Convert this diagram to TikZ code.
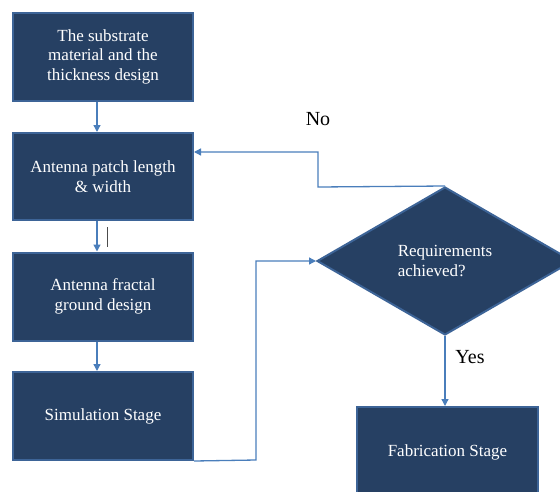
\documentclass[tikz,border=0pt]{standalone}
\usepackage{fontspec}
\setmainfont{Liberation Serif}
\usetikzlibrary{shapes.geometric,arrows.meta}
\definecolor{navy}{HTML}{264063}
\definecolor{rim}{HTML}{3D6497}
\definecolor{conn}{HTML}{4A7EBB}
\begin{document}
\begin{tikzpicture}[x=1pt,y=-1pt,
  stepbox/.style={draw=rim,line width=2pt,fill=navy,text=white,minimum width=180pt,minimum height=88pt,inner sep=0pt,align=center,font=\fontsize{17}{19.5}\selectfont},
  decision/.style={diamond,draw=rim,line width=2pt,fill=navy,text=white,minimum width=256pt,minimum height=148pt,inner sep=0pt,align=left,font=\fontsize{17}{19.5}\selectfont},
  conline/.style={draw=conn,line width=1.3pt},
  arr/.style={conline,-{Triangle[width=7pt,length=7pt]}},
  lab/.style={font=\fontsize{20}{22}\selectfont,text=black}]
\useasboundingbox (0,0) rectangle (560,491);
\node[stepbox] (b1) at (103,56.5) {The substrate\\material and the\\thickness design};
\node[stepbox,minimum height=87pt] (b2) at (103,176.5) {Antenna patch length\\\& width};
\node[stepbox] (b3) at (103,296.5) {Antenna fractal\\ground design};
\node[stepbox] (b4) at (103,416) {Simulation Stage};
\node[decision] (d) at (445,261) {Requirements\\achieved?};
\node[stepbox,minimum width=181pt,minimum height=94pt] (f) at (447.5,454) {\raisebox{6pt}{Fabrication Stage}};
\node[lab] (no) at (318,119) {No};
\node[lab] (yes) at (470,357) {Yes};
\draw[arr] ([xshift=-6pt]b1.south) -- ([xshift=-6pt]b2.north);
\draw[arr] ([xshift=-6pt]b2.south) -- ([xshift=-6pt]b3.north);
\draw[arr] ([xshift=-6pt]b3.south) -- ([xshift=-6pt]b4.north);
\coordinate (s1) at (107,227);
\coordinate (s2) at (107,247);
\draw[line width=0.8pt,black!70] (s1) -- (s2);
\coordinate (k1) at (256,460);
\coordinate (k2) at (256,261);
\draw[arr] (b4.south east) -- (k1) -- (k2) -- (d.west);
\coordinate (n1) at (318,187);
\coordinate (n2) at (318,152);
\draw[arr] (d.north) -- (n1) -- (n2) -- (n2 -| b2.east);
\draw[arr] (d.south) -- (f.north -| d.south);
\end{tikzpicture}
\end{document}
